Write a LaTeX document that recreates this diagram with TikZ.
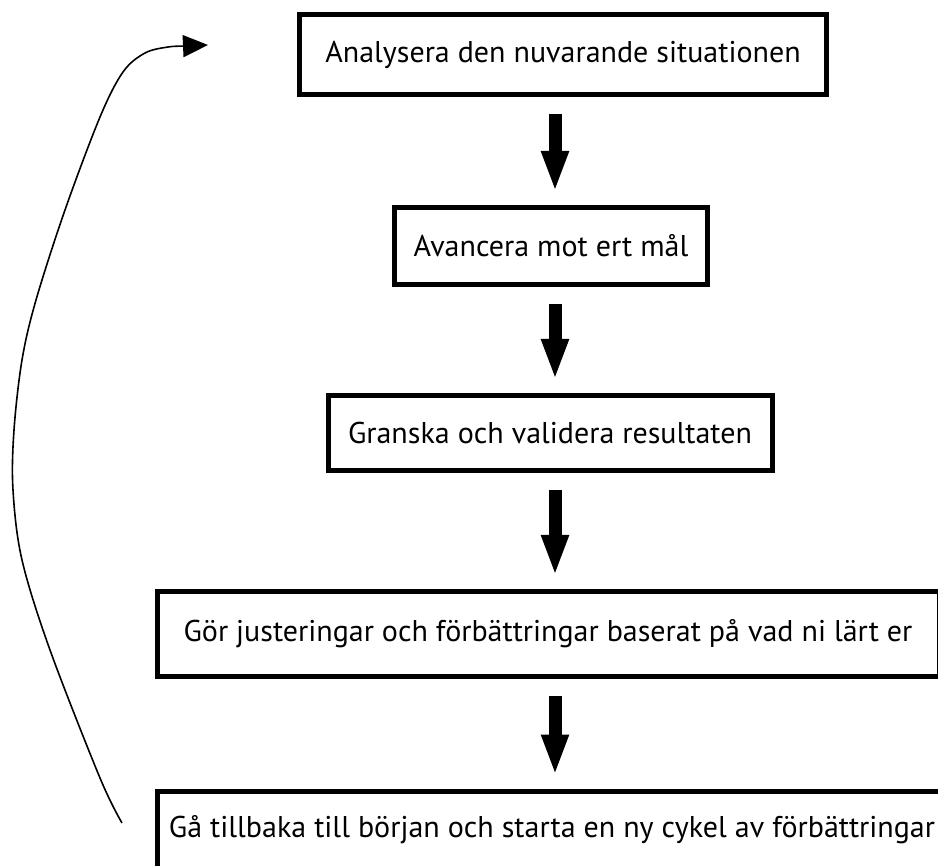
\documentclass[tikz,border=0pt]{standalone}
\usepackage{fontspec}
\setmainfont{PT Sans}
\usetikzlibrary{arrows.meta}
\begin{document}
\begin{tikzpicture}[x=1pt,y=-1pt,
  stepbox/.style={draw,line width=5pt,inner sep=0pt,font=\fontsize{30}{36}\selectfont},
  flowarrow/.style={line width=13pt,-{Triangle[length=41pt,width=25pt]},shorten <=17pt,shorten >=13pt},
  cyclearrow/.style={line width=1.6pt,-{Triangle[length=25pt,width=22pt]}}]
% Improvement cycle: five steps top to bottom, then back to the start
\clip (0,0) rectangle (938,866);
\node[stepbox,minimum width=527,minimum height=80] (analyse) at (563,55) {Analysera den nuvarande situationen};
\node[stepbox,minimum width=313,minimum height=77] (advance) at (551,246) {Avancera mot ert mål};
\node[stepbox,minimum width=444,minimum height=75] (review) at (550,433) {Granska och validera resultaten};
\node[stepbox,minimum width=782,minimum height=85] (adjust) at (548,634) {Gör justeringar och förbättringar baserat på vad ni lärt er};
\node[stepbox,minimum width=790,minimum height=78] (restart) at (552,830) {Gå tillbaka till början och starta en ny cykel av förbättringar};
\coordinate (spine) at (555,0);
\draw[flowarrow] (spine |- analyse.south) -- (spine |- advance.north);
\draw[flowarrow] (spine |- advance.south) -- (spine |- review.north);
\draw[flowarrow] (spine |- review.south) -- (spine |- adjust.north);
\draw[flowarrow] (spine |- adjust.south) -- (spine |- restart.north);
% return curve on the left
\coordinate (loopstart) at (122,823);
\coordinate (looptip) at (208,45);
\draw[cyclearrow] plot[smooth,tension=0.55] coordinates {(loopstart) (100,778) (50,650) (22,560) (13,490) (14,430) (22,360) (36,300) (65,210) (100,117) (123,72) (145,53) (168,47) (186,46) (looptip)};
\end{tikzpicture}
\end{document}
